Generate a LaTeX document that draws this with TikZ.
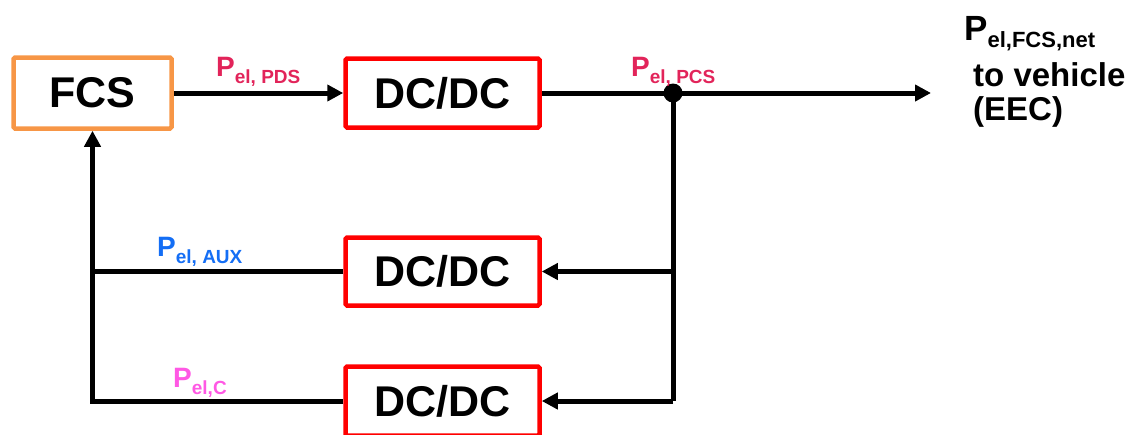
\documentclass[tikz,border=0pt]{standalone}
\usepackage{fontspec}
\setmainfont{Liberation Sans}
\usetikzlibrary{arrows.meta}
\definecolor{fcsorange}{RGB}{247,150,70}
\definecolor{dcred}{RGB}{255,0,0}
\definecolor{pdsred}{RGB}{226,36,90}
\definecolor{auxblue}{RGB}{20,110,245}
\definecolor{cpink}{RGB}{255,88,228}
\tikzset{
  box/.style={draw=dcred, line width=4.5pt, minimum width=194pt, minimum height=69pt,
    inner sep=0pt, rounded corners=1.5pt, font=\fontsize{43}{43}\selectfont\bfseries},
  wire/.style={line width=5pt, black},
  tip/.style={-{Triangle[length=16pt,width=16pt]}},
  lbl/.style={anchor=base west, inner sep=0pt, font=\bfseries},
}
\newcommand{\plabel}[1]{{\fontsize{28}{28}\selectfont P}\raisebox{-7pt}{\fontsize{19}{19}\selectfont #1}}
\begin{document}
\begin{tikzpicture}[x=1pt,y=-1pt]
\useasboundingbox (0,0) rectangle (1137,434);
% boxes
\node[box, draw=fcsorange, minimum width=158pt, minimum height=71pt] (fcs) at (92.5,93) {FCS};
\node[box] (dc1) at (442.5,93) {DC/DC};
\node[box, minimum height=68pt] (dc2) at (442.5,271.5) {DC/DC};
\node[box] (dc3) at (442.5,401) {DC/DC};
% coordinates
\coordinate (J) at (673,93);
\coordinate (out) at (931,93);
\coordinate (jm) at (J |- dc2.east);
\coordinate (jb) at (J |- dc3.east);
\coordinate (lm) at (fcs.south |- dc2.west);
\coordinate (lb) at (fcs.south |- dc3.west);
% wires
\draw[wire, tip] (fcs.east) -- (dc1.west);
\draw[wire] (dc1.east) -- (J);
\draw[wire, tip] (J) -- (out);
\draw[wire] (J) -- (jb);
\draw[wire, tip] (jm) -- (dc2.east);
\draw[wire, tip] (jb) -- (dc3.east);
\draw[wire] (dc2.west) -- (lm);
\draw[wire, line join=miter] (dc3.west) -- (lb) -- (lm);
\draw[wire, tip] (lm) -- (fcs.south);
\fill (J) circle (9.5);
% labels
\node[lbl, text=pdsred] (lpds) at (216,76) {\plabel{el, PDS}};
\node[lbl, text=pdsred] (lpcs) at (631,76) {\plabel{el, PCS}};
\node[lbl, text=auxblue] (laux) at (157,256) {\plabel{el, AUX}};
\node[lbl, text=cpink] (lc) at (173,387) {\plabel{el,C}};
\node[lbl] (lnet) at (964,40) {{\fontsize{35}{35}\selectfont P}\raisebox{-7pt}{\fontsize{22}{22}\selectfont el,FCS,net}};
\node[lbl, font=\fontsize{33}{33}\selectfont\bfseries] (lveh) at (973,86) {to vehicle};
\node[lbl, font=\fontsize{33}{33}\selectfont\bfseries] (leec) at (973,120) {(EEC)};
\end{tikzpicture}
\end{document}
